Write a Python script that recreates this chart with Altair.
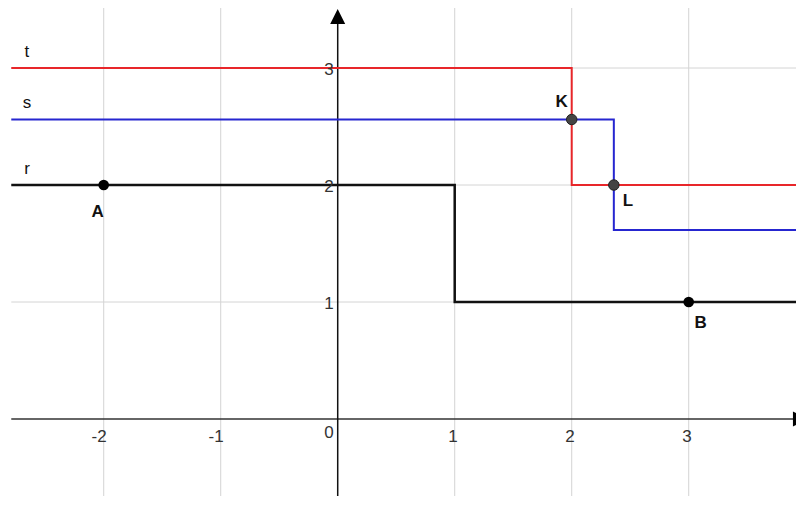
import altair as alt
import pandas as pd

# ---- data ----
x_ticks = [-2, -1, 0, 1, 2, 3]
y_ticks = [1, 2, 3]
grid_x = [-2, -1, 1, 2, 3]
grid_y = [1, 2, 3]

X_MIN, X_MAX = -2.818, 3.917
Y_MIN, Y_MAX = -0.658, 3.513
LINE_START = -2.79

t_x = [LINE_START, 2, 2, X_MAX]
t_y = [3, 3, 2, 2]
s_x = [LINE_START, 2.36, 2.36, X_MAX]
s_y = [2.56, 2.56, 1.615, 1.615]
r_x = [LINE_START, 1, 1, X_MAX]
r_y = [2, 2, 1, 1]

line_names = ["t", "s", "r"]
line_label_x = -2.656
line_label_y = [3, 2.56, 2]

pt_names = ["A", "B", "K", "L"]
pt_x = [-2, 3, 2, 2.36]
pt_y = [2, 1, 2.56, 2]

W, H = 788, 488

xs = alt.Scale(domain=[X_MIN, X_MAX], nice=False, zero=False)
ys = alt.Scale(domain=[Y_MIN, Y_MAX], nice=False, zero=False)
FONT = "Liberation Sans"

def X(f="x"):
    return alt.X(f"{f}:Q", scale=xs, axis=None)

def Y(f="y"):
    return alt.Y(f"{f}:Q", scale=ys, axis=None)

layers = []

# grid
gx = pd.DataFrame({"x": grid_x, "y": [Y_MIN] * len(grid_x), "y2": [Y_MAX] * len(grid_x)})
layers.append(alt.Chart(gx).mark_rule(color="#d4d4d4", strokeWidth=1).encode(
    x=X(), y=Y(), y2="y2:Q"))
gy = pd.DataFrame({"y": grid_y, "x": [LINE_START] * len(grid_y), "x2": [X_MAX] * len(grid_y)})
layers.append(alt.Chart(gy).mark_rule(color="#d4d4d4", strokeWidth=1).encode(
    x=X(), x2="x2:Q", y=Y()))

# axes
ax = pd.DataFrame({"x": [LINE_START], "x2": [X_MAX], "y": [0]})
layers.append(alt.Chart(ax).mark_rule(color="#333333", strokeWidth=1.5).encode(
    x=X(), x2="x2:Q", y=Y()))
ay = pd.DataFrame({"x": [0], "y": [Y_MIN], "y2": [3.45]})
layers.append(alt.Chart(ay).mark_rule(color="#111111", strokeWidth=1.5).encode(
    x=X(), y=Y(), y2="y2:Q"))

# arrows
arr_up = pd.DataFrame({"x": [0], "y": [3.44]})
layers.append(alt.Chart(arr_up).mark_point(
    shape="M0,-1L-1,1L1,1Z", filled=True, color="#000000", size=225, opacity=1).encode(
    x=X(), y=Y()))
arr_right = pd.DataFrame({"x": [3.955], "y": [0]})
layers.append(alt.Chart(arr_right).mark_point(
    shape="M1,0L-1,-1L-1,1Z", filled=True, color="#000000", size=225, opacity=1).encode(
    x=X(), y=Y()))

# step lines
for xv, yv, col, sw in [(t_x, t_y, "#e8262a", 2), (s_x, s_y, "#2626d0", 2), (r_x, r_y, "#111111", 2.5)]:
    df = pd.DataFrame({"x": xv, "y": yv, "o": list(range(len(xv)))})
    layers.append(alt.Chart(df).mark_line(color=col, strokeWidth=sw, interpolate="linear",
                                          strokeJoin="miter").encode(
        x=X(), y=Y(), order="o:Q"))

# line labels
ll = pd.DataFrame({"x": [line_label_x] * 3, "y": line_label_y, "name": line_names})
layers.append(alt.Chart(ll).mark_text(font=FONT, fontSize=17, color="#111111", dy=-16,
                                      align="center", baseline="middle").encode(
    x=X(), y=Y(), text="name:N"))

# tick labels
xt_nonzero = [v for v in x_ticks if v != 0]
xt = pd.DataFrame({"x": xt_nonzero, "y": [0] * len(xt_nonzero), "lab": [str(v) for v in xt_nonzero]})
layers.append(alt.Chart(xt).mark_text(font=FONT, fontSize=17, color="#333333", dx=3, dy=18,
                                      align="right", baseline="middle").encode(
    x=X(), y=Y(), text="lab:N"))
x0 = pd.DataFrame({"x": [0], "y": [0], "lab": ["0"]})
layers.append(alt.Chart(x0).mark_text(font=FONT, fontSize=17, color="#333333", dx=-4, dy=14,
                                      align="right", baseline="middle").encode(
    x=X(), y=Y(), text="lab:N"))
yt = pd.DataFrame({"x": [0] * len(y_ticks), "y": y_ticks, "lab": [str(v) for v in y_ticks]})
layers.append(alt.Chart(yt).mark_text(font=FONT, fontSize=17, color="#333333", dx=-4, dy=2,
                                      align="right", baseline="middle").encode(
    x=X(), y=Y(), text="lab:N"))

# points
pts = pd.DataFrame({"x": pt_x, "y": pt_y, "name": pt_names})
ab = pts[pts["name"].isin(["A", "B"])]
kl = pts[pts["name"].isin(["K", "L"])]
layers.append(alt.Chart(ab).mark_circle(color="#000000", size=113, opacity=1).encode(x=X(), y=Y()))
layers.append(alt.Chart(kl).mark_point(shape="circle", filled=True, fill="#444444", stroke="#222222",
                                       strokeWidth=1, size=110, opacity=1).encode(x=X(), y=Y()))

# point labels
offsets = {"A": (-6, 27), "B": (12, 21), "K": (-10, -17), "L": (14, 16)}
for n in pt_names:
    d = pts[pts["name"] == n]
    dx, dy = offsets[n]
    layers.append(alt.Chart(d).mark_text(font=FONT, fontSize=17, fontWeight="bold", color="#111111",
                                         dx=dx, dy=dy, align="center", baseline="middle").encode(
        x=X(), y=Y(), text="name:N"))

chart = alt.layer(*layers).properties(
    width=W, height=H, autosize=alt.AutoSizeParams(type="none"), padding=0,
    background="white"
).configure_view(stroke=None)

chart.save("out.html", embed_options={"renderer": "svg", "actions": False})
